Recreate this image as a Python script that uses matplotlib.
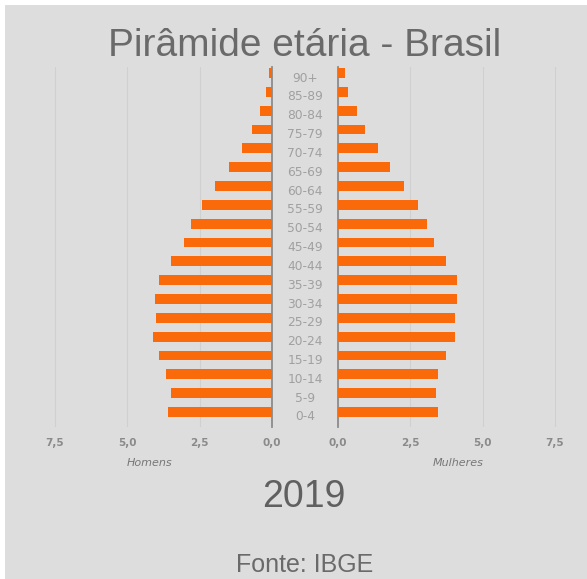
import matplotlib
import matplotlib.pyplot as plt
from matplotlib.patches import Rectangle

matplotlib.use('AGG')

# Dados (% da populacao, IBGE 2019)
faixas = ["0-4", "5-9", "10-14", "15-19", "20-24", "25-29", "30-34", "35-39",
          "40-44", "45-49", "50-54", "55-59", "60-64", "65-69", "70-74",
          "75-79", "80-84", "85-89", "90+"]
homens = [3.60, 3.50, 3.65, 3.89, 4.13, 4.00, 4.03, 3.92, 3.50, 3.05,
          2.81, 2.43, 1.98, 1.49, 1.04, 0.69, 0.42, 0.21, 0.10]
mulheres = [3.44, 3.39, 3.47, 3.74, 4.06, 4.05, 4.13, 4.10, 3.72, 3.31,
            3.06, 2.76, 2.29, 1.81, 1.38, 0.93, 0.65, 0.34, 0.25]
ticks = [0.0, 2.5, 5.0, 7.5]
tick_labels = ["0,0", "2,5", "5,0", "7,5"]

BG = "#dddddd"
ORANGE = "#fb6a0a"
W, H = 587, 579

fig = plt.figure(figsize=(W / 100, H / 100), dpi=100)
fig.patch.set_facecolor("white")
fig.patches.append(Rectangle((5 / W, 0), 1, 1 - 5 / H, transform=fig.transFigure,
                             facecolor=BG, edgecolor="none", zorder=-10))

bottom = (H - 427) / H
height = (427 - 67.4) / H
width = 231.4 / W
axL = fig.add_axes([40.6 / W, bottom, width, height])
axR = fig.add_axes([338 / W, bottom, width, height])

y = list(range(len(faixas)))
axL.barh(y, homens, height=0.52, color=ORANGE, zorder=3)
axR.barh(y, mulheres, height=0.52, color=ORANGE, zorder=3)
axL.set_xlim(8.0, 0)
axR.set_xlim(0, 8.0)

for ax in (axL, axR):
    ax.set_facecolor("none")
    ax.set_ylim(-0.8, 18.3)
    ax.set_yticks([])
    ax.set_xticks(ticks)
    ax.set_xticklabels(tick_labels, color="#8a8a8a", fontsize=7.5, fontweight="bold")
    ax.tick_params(axis="x", length=0, pad=8)
    ax.grid(axis="x", color="#d0d0d0", linewidth=0.8, zorder=0)
    for s in ax.spines.values():
        s.set_visible(False)

axL.spines["right"].set_visible(True)
axL.spines["right"].set_color("#8c8c8c")
axL.spines["right"].set_linewidth(1.3)
axR.spines["left"].set_visible(True)
axR.spines["left"].set_color("#8c8c8c")
axR.spines["left"].set_linewidth(1.3)

# rotulos das faixas no meio
for i, f in enumerate(faixas):
    yp = (H - (412 - i * 18.83) - 5) / H
    fig.text(305 / W, yp, f, ha="center", va="center", color="#a0a0a0", fontsize=8.8)

fig.text(150 / W, (H - 463) / H, "Homens", ha="center", va="center",
         color="#777777", fontsize=8, style="italic")
fig.text(458 / W, (H - 463) / H, "Mulheres", ha="center", va="center",
         color="#777777", fontsize=8, style="italic")

fig.text(305 / W, (H - 46) / H, "Pirâmide etária - Brasil", ha="center", va="center",
         color="#6a6a6a", fontsize=28, family="Liberation Sans")
fig.text(304 / W, (H - 497) / H, "2019", ha="center", va="center",
         color="#606060", fontsize=27, family="Liberation Sans")
fig.text(305 / W, 2 / H, "Fonte: IBGE", ha="center", va="bottom",
         color="#6a6a6a", fontsize=18, family="Liberation Sans")

fig.savefig("out.png", dpi=100)
